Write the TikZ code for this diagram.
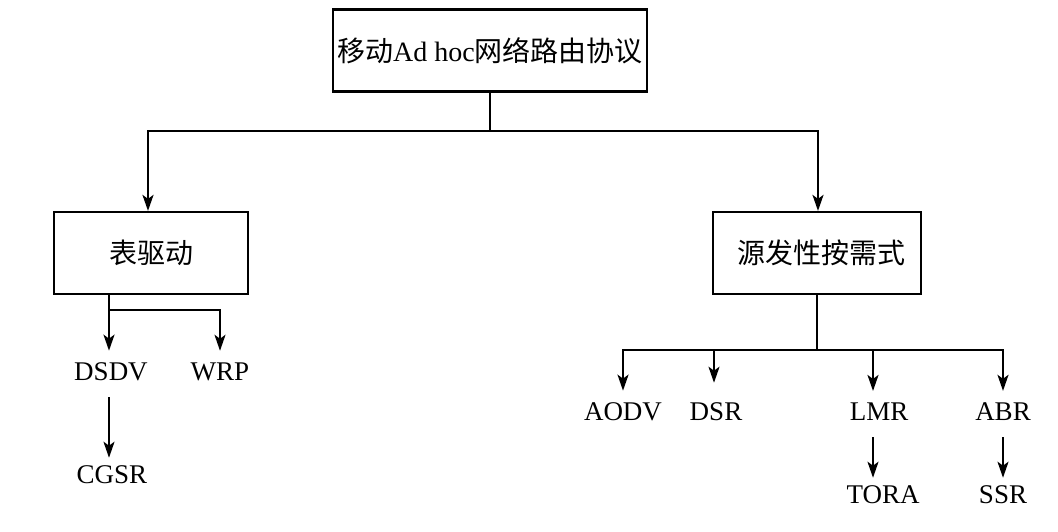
\documentclass[tikz,border=0pt]{standalone}
\usepackage{fontspec}
\setmainfont{Liberation Serif}
\newfontfamily\cjk{Noto Sans CJK SC}
\usetikzlibrary{arrows.meta}
\begin{document}
\begin{tikzpicture}[x=1pt,y=-1pt,
  box/.style={draw,line width=2.2pt,minimum width=#1,minimum height=82pt,inner sep=0pt},
  cj/.style={font=\fontsize{28}{30}\selectfont\cjk},
  lbl/.style={inner sep=0pt,font=\fontsize{27}{32}\selectfont},
  ln/.style={line width=2.2pt},
  arr/.style={ln,-{Stealth[length=16pt,width=11pt,inset=4pt]}}]
\useasboundingbox (0,0) rectangle (1058,531);
% boxes
\node[box=314pt,font=\fontsize{28}{32}\selectfont] (top) at (490,50.5) {{\cjk\fontsize{28}{30}\selectfont 移动}Ad hoc{\cjk\fontsize{28}{30}\selectfont 网络路由协议}};
\node[box=194pt,cj] (left) at (151,253) {表驱动};
\node[box=208pt,cj] (right) at (817,253) {\hspace*{8pt}源发性按需式};
% labels
\node[lbl] (dsdv) at (111,372) {DSDV};
\node[lbl] (wrp) at (220,372) {WRP};
\node[lbl] (cgsr) at (112,475) {CGSR};
\node[lbl] (aodv) at (623,412) {AODV};
\node[lbl] (dsr) at (716,412) {DSR};
\node[lbl] (lmr) at (879,412) {LMR};
\node[lbl] (abr) at (1003,412) {ABR};
\node[lbl] (tora) at (883,495) {TORA};
\node[lbl] (ssr) at (1003,495) {SSR};
% junctions
\coordinate (j0) at (490,131);
\coordinate (jl) at (109,310);
\coordinate (jr) at (817,350);
% top level
\draw[ln] (top.south) -- (j0);
\draw[arr] (j0) -| ([xshift=-3pt]left.north);
\draw[arr] (j0) -| ([xshift=1pt]right.north);
% left subtree
\draw[ln] (left.south -| jl) -- (jl);
\draw[arr,shorten >=12pt] (jl) -- (jl |- dsdv.north);
\draw[arr,shorten >=12pt] (jl) -| (wrp.north);
\draw[arr,shorten <=16pt,shorten >=8pt] (dsdv.south -| jl) -- (jl |- cgsr.north);
% right subtree
\draw[ln] (right.south) -- (jr);
\draw[arr,shorten >=12pt] (jr) -| (aodv.north);
\draw[arr,shorten >=20pt] (jr) -| ([xshift=-2pt]dsr.north);
\draw[arr,shorten >=12pt] (jr) -| ([xshift=-6pt]lmr.north);
\draw[arr,shorten >=12pt] (jr) -| (abr.north);
\draw[arr,shorten <=16pt,shorten >=8pt] ([xshift=-6pt]lmr.south) -- ([xshift=-10pt]tora.north);
\draw[arr,shorten <=16pt,shorten >=8pt] (abr.south) -- (ssr.north);
\end{tikzpicture}
\end{document}
